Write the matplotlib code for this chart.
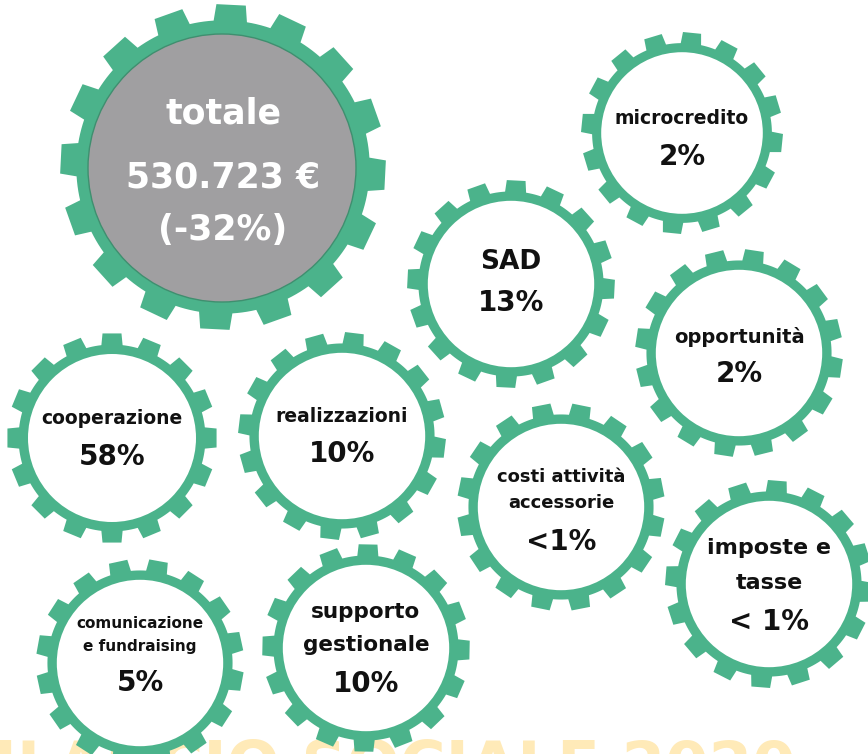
import numpy as np
import matplotlib
matplotlib.use("Agg")
import matplotlib.pyplot as plt
from matplotlib.patches import Polygon, Circle

# data
total_lines = ["totale", "530.723 €", "(-32%)"]
categories = ["microcredito", "SAD", "opportunità", "cooperazione", "realizzazioni",
              "costi attività\naccessorie", "imposte e\ntasse",
              "comunicazione\ne fundraising", "supporto\ngestionale"]
shares = ["2%", "13%", "2%", "58%", "10%", "<1%", "< 1%", "5%", "10%"]
footer = "BILANCIO SOCIALE 2020"

# layout (pixel coords): cx, cy, outer radius, phase, label size, label line ys, pct y
layout = [
    (682, 133, 101, 0.10, 13.5, [118], 157),
    (511, 284, 104, 0.05, 19, [262], 303),
    (739, 353, 104, 0.15, 14, [337], 374),
    (112, 438, 105, 0.00, 13.5, [418], 457),
    (342, 436, 104, 0.12, 13.5, [417], 454),
    (561, 507, 104, 0.20, 13, [477, 503], 542),
    (769, 584, 104, 0.08, 16, [548, 583], 622),
    (140, 663, 104, 0.18, 11, [623, 647], 683),
    (366, 648, 104, 0.02, 15.5, [612, 645], 684),
]

GREEN = "#4bb38b"
GRAY = "#a09fa1"


def gear(cx, cy, r_out, n=16, phase=0.0, depth=0.11):
    r_body = r_out * (1 - depth)
    pitch = 2 * np.pi / n
    pts = []
    for i in range(n):
        a = phase + i * pitch
        # tooth: base a bit wider than tip
        for ang, r in [(a - 0.29 * pitch, r_body), (a - 0.23 * pitch, r_out),
                       (a + 0.23 * pitch, r_out), (a + 0.29 * pitch, r_body)]:
            pts.append((cx + r * np.cos(ang), cy + r * np.sin(ang)))
        for t in np.linspace(a + 0.29 * pitch, a + 0.71 * pitch, 6)[1:-1]:
            pts.append((cx + r_body * np.cos(t), cy + r_body * np.sin(t)))
    return Polygon(pts, closed=True, facecolor=GREEN, edgecolor="none")


fig = plt.figure(figsize=(8.68, 7.54), dpi=100)
ax = fig.add_axes([0, 0, 1, 1])
ax.set_xlim(0, 868)
ax.set_ylim(754, 0)
ax.axis("off")

font = "DejaVu Sans"

# footer watermark, mostly cut off by the bottom edge
ax.text(796, 739, footer, ha="right", va="top", fontsize=45, fontweight="bold",
        color="#ffeab8", family=font, zorder=0)

# big total gear
ax.add_patch(gear(223, 167, 163, n=16, phase=0.05, depth=0.10))
ax.add_patch(Circle((222, 168), 134, facecolor=GRAY, edgecolor="#3f8f6f", lw=1))
for txt, y in zip(total_lines, [114, 177, 230]):
    ax.text(223, y, txt, ha="center", va="center", fontsize=25, fontweight="bold",
            color="white", family=font)

for name, pct, (cx, cy, ro, ph, fs, ys, py) in zip(categories, shares, layout):
    ax.add_patch(gear(cx, cy, ro, n=16, phase=ph))
    ax.add_patch(Circle((cx, cy), ro * 0.80, facecolor="white", edgecolor="none"))
    for line, y in zip(name.split("\n"), ys):
        ax.text(cx, y, line, ha="center", va="center", fontsize=fs, fontweight="bold",
                color="#111111", family=font)
    ax.text(cx, py, pct, ha="center", va="center", fontsize=20, fontweight="bold",
            color="#111111", family=font)

fig.savefig("out.png", dpi=100)
